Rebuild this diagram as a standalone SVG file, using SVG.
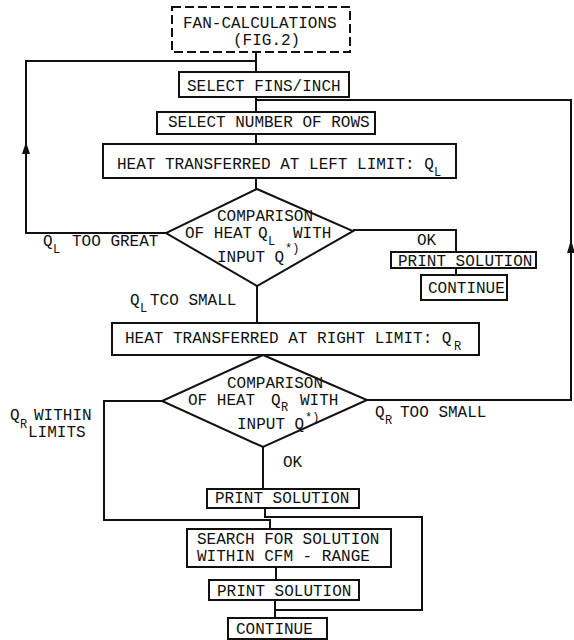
<svg xmlns="http://www.w3.org/2000/svg" width="574" height="640" viewBox="0 0 574 640">
<defs>
<style>
.box{fill:#fff;stroke:#111;stroke-width:2}
.dash{fill:#fff;stroke:#111;stroke-width:2;stroke-dasharray:9 4}
.ln{fill:none;stroke:#111;stroke-width:2}
.t{font-family:"Liberation Mono","Courier New",monospace;font-size:16px;fill:#111}
.s{font-family:"Liberation Mono","Courier New",monospace;font-size:12px;fill:#111}
.a{fill:#111}
</style>
</defs>
<rect width="574" height="640" fill="#fff"/>
<g id="connectors">
<path class="ln" d="M256,52 V72"/>
<path class="ln" d="M256,97 V112"/>
<path class="ln" d="M256,134 V144"/>
<path class="ln" d="M256,178 V189"/>
<path class="ln" d="M166,233 H26 V152"/>
<path class="a" d="M26,142 L30,154 L22,154 Z"/>
<path class="ln" d="M26,152 V61 H256"/>
<path class="ln" d="M353,230 H456 V252"/>
<path class="ln" d="M456,268 V275"/>
<path class="ln" d="M257,286 V323"/>
<path class="ln" d="M367,400 H571 V252"/>
<path class="a" d="M571,240 L575,253 L567,253 Z"/>
<path class="ln" d="M571,252 V100 H256"/>
<path class="ln" d="M162,401 H104 V520 H270 V529"/>
<path class="ln" d="M263,447 V489"/>
<path class="ln" d="M265,508 V517 H422 V610 H275"/>
<path class="ln" d="M276,567 V580"/>
<path class="ln" d="M275,600 V618"/>
</g>
<g id="fan">
<rect class="dash" x="172" y="7" width="178" height="45"/>
<text class="t" x="183" y="28">FAN-CALCULATIONS</text>
<text class="t" x="233" y="45">(FIG.2)</text>
</g>
<g id="fins">
<rect class="box" x="179" y="72" width="170" height="25"/>
<text class="t" x="187" y="91">SELECT FINS/INCH</text>
</g>
<g id="rows">
<rect class="box" x="157" y="112" width="218" height="22"/>
<text class="t" x="168" y="127">SELECT NUMBER OF ROWS</text>
</g>
<g id="heat-left">
<rect class="box" x="103" y="144" width="353" height="34"/>
<text class="t" x="117" y="169">HEAT TRANSFERRED AT LEFT LIMIT: Q</text>
<text class="s" x="434" y="176">L</text>
</g>
<g id="compare-left">
<polygon class="box" points="257,189 353,231 257,286 166,233"/>
<text class="t" x="217" y="221">COMPARISON</text>
<text class="t" x="185" y="238">OF HEAT</text>
<text class="t" x="258" y="238">Q</text>
<text class="s" x="268" y="245">L</text>
<text class="t" x="293" y="238">WITH</text>
<text class="t" x="217" y="262">INPUT Q</text>
<text class="s" x="285" y="252">*)</text>
</g>
<g id="label-ql-great">
<text class="t" x="43" y="246">Q</text>
<text class="s" x="53" y="253">L</text>
<text class="t" x="72" y="246">TOO GREAT</text>
</g>
<g id="label-ok1">
<text class="t" x="417" y="245">OK</text>
</g>
<g id="print1">
<rect class="box" x="391" y="252" width="145" height="16"/>
<text class="t" x="398" y="266">PRINT SOLUTION</text>
</g>
<g id="continue1">
<rect class="box" x="421" y="275" width="86" height="25"/>
<text class="t" x="428" y="293">CONTINUE</text>
</g>
<g id="label-ql-small">
<text class="t" x="130" y="305">Q</text>
<text class="s" x="140" y="312">L</text>
<text class="t" x="150" y="305">TCO SMALL</text>
</g>
<g id="heat-right">
<rect class="box" x="112" y="323" width="367" height="32"/>
<text class="t" x="125" y="343">HEAT TRANSFERRED AT RIGHT LIMIT: Q</text>
<text class="s" x="454" y="350">R</text>
</g>
<g id="compare-right">
<polygon class="box" points="263,355 367,400 263,447 162,401"/>
<text class="t" x="227" y="388">COMPARISON</text>
<text class="t" x="188" y="405">OF HEAT</text>
<text class="t" x="271" y="405">Q</text>
<text class="s" x="281" y="411" font-size="11">R</text>
<text class="t" x="300" y="405">WITH</text>
<text class="t" x="237" y="429">INPUT Q</text>
<text class="s" x="305" y="421">*)</text>
</g>
<g id="label-qr-within">
<text class="t" x="10" y="420">Q</text>
<text class="s" x="20" y="428">R</text>
<text class="t" x="34" y="420">WITHIN</text>
<text class="t" x="28" y="437">LIMITS</text>
</g>
<g id="label-qr-small">
<text class="t" x="375" y="417">Q</text>
<text class="s" x="385" y="424">R</text>
<text class="t" x="400" y="417">TOO SMALL</text>
</g>
<g id="label-ok2">
<text class="t" x="283" y="467">OK</text>
</g>
<g id="print2">
<rect class="box" x="207" y="489" width="152" height="19"/>
<text class="t" x="215" y="503">PRINT SOLUTION</text>
</g>
<g id="search">
<rect class="box" x="187" y="529" width="204" height="38"/>
<text class="t" x="197" y="544">SEARCH FOR SOLUTION</text>
<text class="t" x="197" y="561">WITHIN CFM - RANGE</text>
</g>
<g id="print3">
<rect class="box" x="209" y="580" width="150" height="20"/>
<text class="t" x="217" y="596">PRINT SOLUTION</text>
</g>
<g id="continue2">
<rect class="box" x="228" y="618" width="99" height="21"/>
<text class="t" x="236" y="634">CONTINUE</text>
</g>
</svg>
